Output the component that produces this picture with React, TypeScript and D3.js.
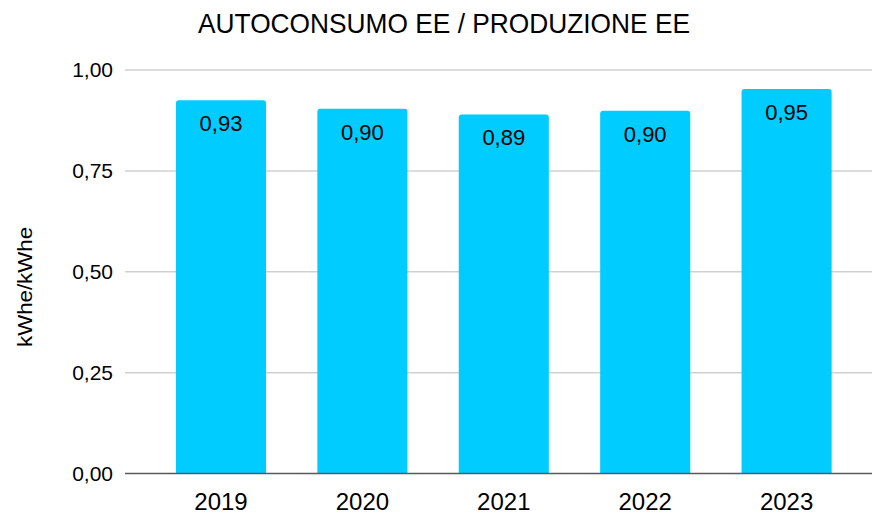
import React from "react";
import * as d3 from "d3";

const categories = ["2019", "2020", "2021", "2022", "2023"];
const values = [0.925, 0.904, 0.89, 0.899, 0.953];
const labels = ["0,93", "0,90", "0,89", "0,90", "0,95"];
const yTicks = [0, 0.25, 0.5, 0.75, 1.0];

const W = 872;
const H = 516;
const FONT = "'Liberation Sans', Arial, sans-serif";

export default function App() {
  const x = d3
    .scaleBand<string>()
    .domain(categories)
    .range([150.3, 857.3])
    .paddingInner(0.363)
    .paddingOuter(0.1815);
  const y = d3.scaleLinear().domain([0, 1]).range([473.5, 70]);
  const fmt = (v: number) => v.toFixed(2).replace(".", ",");
  const r = 3;

  const barPath = (xx: number, w: number, top: number, bottom: number) =>
    `M${xx},${bottom}V${top + r}Q${xx},${top} ${xx + r},${top}H${xx + w - r}Q${xx + w},${top} ${xx + w},${top + r}V${bottom}Z`;

  return (
    <svg
      width={W}
      height={H}
      style={{ position: "absolute", left: 0, top: 0, background: "#fff" }}
      fontFamily={FONT}
    >
      <text
        x={444}
        y={33}
        textAnchor="middle"
        fontSize={28}
        textLength={492}
        lengthAdjust="spacingAndGlyphs"
        fill="#000"
      >
        AUTOCONSUMO EE / PRODUZIONE EE
      </text>
      {yTicks.map((t) => (
        <g key={t}>
          {t > 0 && (
            <line x1={125} x2={872} y1={y(t)} y2={y(t)} stroke="#d0d0d0" strokeWidth={1.5} />
          )}
          <text x={113} y={y(t) + 7} textAnchor="end" fontSize={21} fill="#000">
            {fmt(t)}
          </text>
        </g>
      ))}
      <text
        transform="translate(32,287) rotate(-90)"
        textAnchor="middle"
        fontSize={20}
        textLength={120}
        lengthAdjust="spacingAndGlyphs"
        fill="#000"
      >
        kWhe/kWhe
      </text>
      {categories.map((c, i) => {
        const bx = x(c)!;
        const bw = x.bandwidth();
        const top = y(values[i]);
        return (
          <g key={c}>
            <path d={barPath(bx, bw, top, y(0))} fill="#00CCFF" />
            <text x={bx + bw / 2} y={top + 31} textAnchor="middle" fontSize={22} fill="#000">
              {labels[i]}
            </text>
            <text x={bx + bw / 2} y={510} textAnchor="middle" fontSize={24} fill="#000">
              {c}
            </text>
          </g>
        );
      })}
      <line x1={125} x2={872} y1={y(0)} y2={y(0)} stroke="#595959" strokeWidth={1.5} />
    </svg>
  );
}
